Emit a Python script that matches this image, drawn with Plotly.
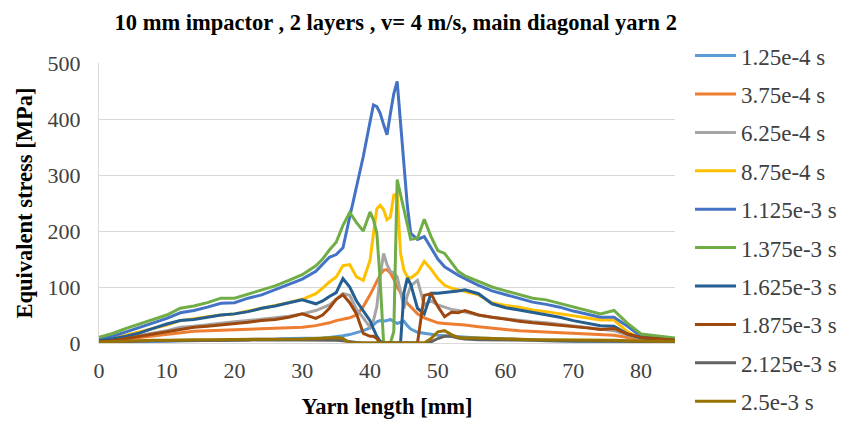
import plotly.graph_objects as go

# Positions along the yarn [mm]
yarn_mm = [0, 2, 4, 6, 8, 10, 12, 14, 16, 18, 20, 22, 24, 26, 28, 30, 32,
           33, 34, 35, 36, 37, 38, 39, 40,
           40.5, 41, 41.5, 42, 42.5, 43, 43.5, 44, 44.5, 45, 45.5, 46,
           47, 48, 49, 50, 51, 52, 53, 54,
           56, 58, 60, 62, 64, 66, 68, 70, 72, 74, 76, 78, 80, 82, 85]

time_labels = ["1.25e-4 s", "3.75e-4 s", "6.25e-4 s", "8.75e-4 s", "1.125e-3 s",
               "1.375e-3 s", "1.625e-3 s", "1.875e-3 s", "2.125e-3 s", "2.5e-3 s"]

# Equivalent stress [MPa] at each time step
s_1_25e4 = [0, 0, 1, 2, 2, 3, 4, 4, 5, 5, 6, 6, 7, 7, 8, 8, 9,
            9, 10, 11, 13, 15, 18, 22, 27,
            32, 38, 40, 39, 40, 42, 38, 35, 37, 39, 31, 25,
            19, 17, 15, 14, 13, 12, 11, 10,
            9, 8, 7, 6, 5, 4, 4, 3, 2, 1, 1, 0, 0, 0, 0]
s_3_75e4 = [2, 4, 7, 10, 13, 16, 19, 21, 22, 23, 24, 25, 25, 26, 27, 28, 31,
            33, 36, 40, 43, 45, 50, 65, 86,
            98, 110, 122, 130, 131, 125, 114, 100, 89, 80, 71, 64,
            52, 45, 40, 36, 35, 34, 34, 32,
            29, 26, 24, 22, 21, 20, 19, 18, 17, 16, 14, 10, 6, 4, 3]
s_6_25e4 = [3, 5, 9, 14, 18, 22, 28, 30, 33, 36, 38, 40, 42, 45, 48, 52, 58,
            63, 68, 78, 88, 85, 60, 45, 28,
            40, 65, 120, 160, 140, 128, 125, 118, 92, 62, 85, 102,
            112, 68, 75, 68, 64, 60, 58, 55,
            50, 46, 43, 40, 38, 36, 33, 30, 27, 24, 22, 14, 8, 6, 4]
s_8_75e4 = [5, 8, 14, 20, 26, 32, 40, 44, 47, 50, 52, 57, 62, 66, 72, 78, 88,
            98, 109, 118, 138, 140, 118, 112, 148,
            195, 240, 246, 238, 220, 225, 264, 266, 160, 130, 118, 116,
            125, 146, 132, 115, 103, 98, 95, 92,
            86, 72, 67, 64, 59, 56, 52, 48, 44, 41, 41, 20, 8, 7, 5]
s_1_125e3 = [7, 12, 20, 28, 36, 44, 54, 58, 64, 71, 72, 80, 86, 95, 104, 114, 128,
             140, 153, 158, 170, 225, 280, 333, 395,
             425, 422, 410, 390, 372, 410, 445, 467, 390, 309, 245, 196,
             185, 190, 170, 150, 136, 128, 121, 115,
             103, 93, 86, 80, 73, 69, 64, 57, 51, 46, 46, 30, 12, 10, 7]
s_1_375e3 = [10, 17, 26, 34, 42, 50, 62, 66, 72, 80, 80, 87, 94, 102, 112, 122, 138,
             150, 166, 180, 210, 233, 215, 200, 234,
             220, 196, 110, 0, 0, 0, 20, 292, 265, 237, 210, 185,
             187, 221, 190, 165, 160, 145, 128, 120,
             110, 100, 93, 87, 80, 77, 71, 64, 58, 52, 58, 35, 16, 13, 9]
s_1_625e3 = [4, 7, 12, 18, 26, 34, 40, 42, 46, 50, 52, 56, 62, 66, 72, 77, 70,
             75, 83, 90, 115, 100, 75, 58, 40,
             25, 12, 3, 0, 0, 0, 0, 0, 0, 90, 116, 105,
             62, 52, 89, 89, 90, 92, 93, 95,
             88, 70, 63, 59, 55, 50, 46, 40, 35, 31, 30, 16, 9, 7, 5]
s_1_875e3 = [2, 4, 8, 12, 16, 20, 25, 28, 30, 32, 34, 37, 40, 42, 46, 52, 44,
             50, 62, 78, 86, 72, 52, 17, 12,
             12, 8, 0, 0, 0, 0, 0, 0, 0, 0, 0, 0,
             0, 85, 88, 65, 47, 55, 54, 58,
             50, 46, 42, 39, 36, 34, 31, 29, 27, 24, 26, 16, 10, 8, 5]
s_2_125e3 = [1, 2, 3, 3, 4, 4, 4, 5, 5, 5, 5, 5, 6, 6, 6, 6, 6,
             6, 6, 5, 4, 2, 1, 0, 0,
             0, 0, 0, 0, 0, 0, 0, 0, 0, 0, 0, 0,
             0, 0, 2, 8, 12, 12, 9, 7,
             6, 6, 5, 5, 5, 4, 4, 4, 4, 3, 3, 3, 2, 2, 2]
s_2_5e3 = [2, 3, 4, 5, 5, 5, 6, 6, 6, 6, 6, 7, 7, 7, 7, 7, 8,
           9, 10, 10, 8, 0, 0, 0, 0,
           0, 0, 0, 0, 0, 0, 0, 0, 0, 0, 0, 0,
           0, 0, 8, 20, 22, 15, 10, 9,
           9, 8, 7, 7, 6, 6, 6, 5, 5, 5, 5, 4, 3, 3, 3]

series = [s_1_25e4, s_3_75e4, s_6_25e4, s_8_75e4, s_1_125e3,
          s_1_375e3, s_1_625e3, s_1_875e3, s_2_125e3, s_2_5e3]
colors = ["#5B9BD5", "#ED7D31", "#A5A5A5", "#FFC000", "#4472C4",
          "#70AD47", "#255E91", "#9E480E", "#636363", "#997300"]

SERIF = "Liberation Serif, Times New Roman, serif"

fig = go.Figure()
for i, (name, vals, col) in enumerate(zip(time_labels, series, colors)):
    fig.add_trace(go.Scatter(
        x=yarn_mm, y=vals, mode="lines", name=name,
        legendgroup=f"g{i}",
        line=dict(color=col, width=3),
    ))

fig.update_layout(
    width=842, height=421,
    margin=dict(l=99, r=167, t=63, b=78, autoexpand=False),
    paper_bgcolor="white", plot_bgcolor="white",
    title=dict(
        text="<b>10 mm impactor , 2 layers , v= 4 m/s, main diagonal yarn 2</b>",
        font=dict(family=SERIF, size=22.5, color="black"),
        x=0.47, xanchor="center", y=0.948, yanchor="middle",
    ),
    legend=dict(
        x=1.026, xanchor="left", y=1.103, yanchor="top",
        font=dict(family=SERIF, size=23, color="#404040"),
        tracegroupgap=5.5, traceorder="grouped",
        itemwidth=41, maxheight=600,
        bgcolor="rgba(0,0,0,0)",
    ),
    showlegend=True,
)

fig.update_xaxes(
    range=[0, 85], dtick=10, tick0=0,
    showgrid=False, zeroline=False, automargin=False,
    showline=True, linecolor="#d9d9d9", linewidth=1,
    ticks="", ticklabelstandoff=8,
    tickfont=dict(family=SERIF, size=22, color="#404040"),
    title=dict(text="<b>Yarn length [mm]</b>",
               font=dict(family=SERIF, size=22.5, color="black"), standoff=15),
)
fig.update_yaxes(
    range=[0, 500], dtick=100, tick0=0,
    showgrid=True, gridcolor="#d9d9d9", gridwidth=1,
    zeroline=False, automargin=False,
    showline=True, linecolor="#d9d9d9", linewidth=1,
    ticks="", ticklabelstandoff=13,
    tickfont=dict(family=SERIF, size=22, color="#404040"),
    title=dict(text="<b>Equivalent stress [MPa]</b>",
               font=dict(family=SERIF, size=22.5, color="black"), standoff=8),
)

fig.write_html("out.html")
